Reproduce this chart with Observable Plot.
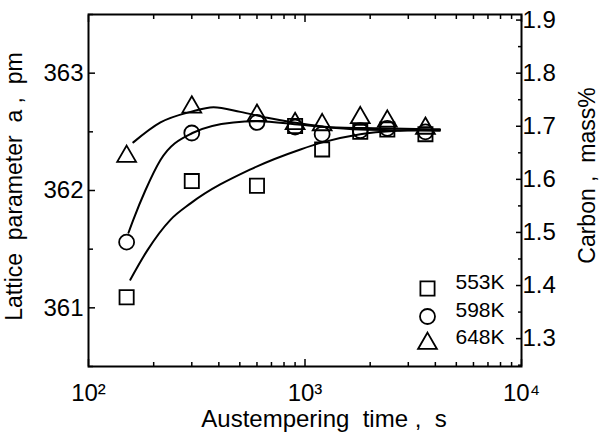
<!DOCTYPE html>
<html>
<head>
<meta charset="utf-8">
<script src="https://cdn.jsdelivr.net/npm/d3@7"></script>
<script src="https://cdn.jsdelivr.net/npm/@observablehq/plot@0.6"></script>
<style>
  html, body { margin: 0; padding: 0; background: #fff; }
  svg { font-family: "Liberation Sans", Arial, sans-serif; }
</style>
</head>
<body>
<div id="chart"></div>
<script>
// Austempering time (s)
const times = [150, 300, 600, 900, 1200, 1800, 2400, 3600];
// Lattice parameter a (pm)
const a553 = [361.09, 362.08, 362.04, 362.55, 362.35, 362.50, 362.52, 362.48];
const a598 = [361.56, 362.49, 362.58, 362.54, 362.48, 362.51, 362.53, 362.50];
const a648 = [362.29, 362.71, 362.64, 362.57, 362.56, 362.62, 362.59, 362.53];

// fitted curves
const fitT553 = [156, 187, 239, 296, 560, 953, 1205, 1800, 2750, 4200];
const fitA553 = [361.24, 361.49, 361.75, 361.89, 362.18, 362.35, 362.41, 362.48, 362.51, 362.52];
const fitT598 = [153, 161, 183, 215, 302, 467, 604, 953, 1800, 4200];
const fitA598 = [361.64, 361.75, 362.00, 362.26, 362.49, 362.58, 362.59, 362.56, 362.52, 362.51];
const fitT648 = [161, 215, 296, 378, 503, 670, 887, 1310, 2230, 4200];
const fitA648 = [362.41, 362.58, 362.67, 362.71, 362.67, 362.62, 362.58, 362.54, 362.53, 362.52];

const seriesNames = ["553K", "598K", "648K"];
const seriesSymbols = ["square", "circle", "triangle"];

// axis ticks
const xMajor = [100, 1000, 10000];
const xMinor = [200,300,400,500,600,700,800,900,2000,3000,4000,5000,6000,7000,8000,9000];
const yMajor = [361, 362, 363];
const yMinor = [360.5, 361.5, 362.5, 363.5];
const cMajor = [1.3, 1.4, 1.5, 1.6, 1.7, 1.8, 1.9];
const cMinor = [1.25, 1.35, 1.45, 1.55, 1.65, 1.75, 1.85];
// carbon (mass%) <-> lattice parameter
const cAt363 = 1.80, cPerPm = 0.221;
const cToA = c => 363 + (c - cAt363) / cPerPm;

const sup = {"2": "\u00B2", "3": "\u00B3", "4": "\u2074"};
const fmtPow = d => "10" + sup[String(Math.round(Math.log10(d)))];

const pts = (ts, as, s) => ts.map((t, i) => ({t, a: as[i], s}));
const data553 = pts(times, a553, "553K");
const data598 = pts(times, a598, "598K");
const data648 = pts(times, a648, "648K");
const legend = seriesNames.map((n, i) => ({n, sym: seriesSymbols[i]}));

const FS = 21;
const TFS = 24;
const blank = () => "";
const CURVE = "monotone-x";

const chart = Plot.plot({
  width: 601,
  height: 441,
  marginLeft: 88,
  marginRight: 80,
  marginTop: 14,
  marginBottom: 75,
  style: {fontFamily: '"Liberation Sans", Arial, sans-serif', fontSize: FS + "px", color: "#000", background: "#fff"},
  x: {type: "log", domain: [100, 10000]},
  y: {domain: [360.5, 363.5]},
  marks: [
    Plot.frame({stroke: "#000", strokeWidth: 2}),
    // bottom axis
    Plot.axisX(xMajor, {anchor: "bottom", tickSize: -7, strokeWidth: 1.5, tickFormat: fmtPow, tickPadding: 24, fontSize: TFS, label: null}),
    Plot.axisX(xMinor, {anchor: "bottom", tickSize: -4, strokeWidth: 1.5, tickFormat: blank, label: null}),
    // top axis
    Plot.axisX(xMajor, {anchor: "top", tickSize: -7, strokeWidth: 1.5, tickFormat: blank, label: null}),
    Plot.axisX(xMinor, {anchor: "top", tickSize: -4, strokeWidth: 1.5, tickFormat: blank, label: null}),
    // left axis
    Plot.axisY(yMajor, {anchor: "left", tickSize: -7, strokeWidth: 1.5, tickPadding: 12, fontSize: TFS, tickFormat: d => String(d), label: null}),
    Plot.axisY(yMinor, {anchor: "left", tickSize: -5, strokeWidth: 1.5, tickFormat: blank, label: null}),
    // right axis (carbon)
    Plot.axisY(cMajor.map(cToA), {anchor: "right", tickSize: -6, strokeWidth: 1.5, tickPadding: 7, fontSize: TFS,
      tickFormat: d => (cAt363 + (d - 363) * cPerPm).toFixed(1), label: null}),
    Plot.axisY(cMinor.map(cToA), {anchor: "right", tickSize: -4, strokeWidth: 1.5, tickFormat: blank, label: null}),
    // fitted curves
    Plot.line(fitT553.map((t, i) => ({t, a: fitA553[i]})), {x: "t", y: "a", curve: CURVE, stroke: "#000", strokeWidth: 2}),
    Plot.line(fitT598.map((t, i) => ({t, a: fitA598[i]})), {x: "t", y: "a", curve: CURVE, stroke: "#000", strokeWidth: 2}),
    Plot.line(fitT648.map((t, i) => ({t, a: fitA648[i]})), {x: "t", y: "a", curve: CURVE, stroke: "#000", strokeWidth: 2}),
    // data markers
    Plot.dot(data553, {x: "t", y: "a", symbol: "square", r: 8, stroke: "#000", strokeWidth: 1.8, fill: "none"}),
    Plot.dot(data598, {x: "t", y: "a", symbol: "circle", r: 7.5, stroke: "#000", strokeWidth: 1.8, fill: "none"}),
    Plot.dot(data648, {x: "t", y: "a", symbol: "triangle", r: 7, stroke: "#000", strokeWidth: 1.8, fill: "none"}),
    // legend
    ...legend.map((d, i) => Plot.dot([d], {frameAnchor: "bottom-right", dx: -94, dy: [-78, -50, -23][i], symbol: "sym", r: [8, 7.5, 7][i], stroke: "#000", strokeWidth: 1.8, fill: "none"})),
    ...legend.map((d, i) => Plot.text([d], {frameAnchor: "bottom-right", dx: -66, dy: [-78, -50, -23][i], text: "n", textAnchor: "start", fontSize: FS, fill: "#000"})),
    // axis titles
    Plot.text(["Lattice  parameter  a ,  pm"], {frameAnchor: "left", textAnchor: "middle", dx: -74, dy: -4, rotate: -90, fontSize: 23, fill: "#000", ariaLabel: "ytitle"}),
    Plot.text(["Carbon ,  mass%"], {frameAnchor: "right", textAnchor: "middle", dx: 66, dy: -15, rotate: -90, fontSize: 23, fill: "#000", ariaLabel: "ctitle"}),
    Plot.text(["Austempering  time ,  s"], {frameAnchor: "bottom", textAnchor: "middle", dx: 19, dy: 60, fontSize: 24, fill: "#000", ariaLabel: "xtitle"})
  ]
});
chart.querySelectorAll("text").forEach(t => t.setAttribute("xml:space", "preserve"));
chart.style.whiteSpace = "pre";
const fit = (label, len) => {
  const t = chart.querySelector(`g[aria-label="${label}"] text`);
  if (t) { t.setAttribute("textLength", len); t.setAttribute("lengthAdjust", "spacing"); }
};
fit("ytitle", 305); fit("ctitle", 210); fit("xtitle", 248);
document.getElementById("chart").appendChild(chart);
</script>
</body>
</html>
